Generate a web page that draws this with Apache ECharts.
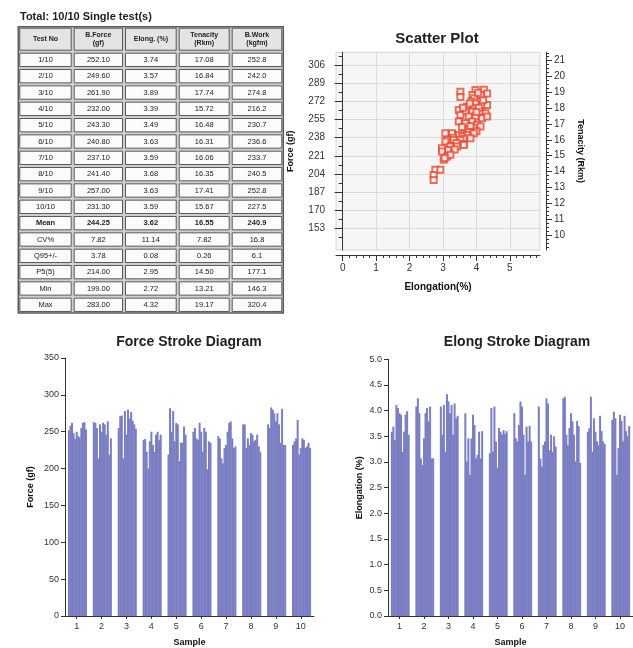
<!DOCTYPE html>
<html><head><meta charset="utf-8">
<script src="https://cdn.jsdelivr.net/npm/echarts@6.0.0/dist/echarts.min.js"></script>
<style>html,body{margin:0;padding:0;background:#fff}#c{width:633px;height:648px}</style>
</head><body><div id="c"></div>
<script>
// ---------- DATA ----------
const tableTitle = 'Total: 10/10 Single test(s)';
const tableHeaders = ['Test No', 'B.Force\n(gf)', 'Elong. (%)', 'Tenacity\n(Rkm)', 'B.Work\n(kgfm)'];
const tableRowLabels = ['1/10','2/10','3/10','4/10','5/10','6/10','7/10','8/10','9/10','10/10','Mean','CV%','Q95+/-','P5(5)','Min','Max'];
const tableForce = ['252.10','249.60','261.90','232.00','243.30','240.80','237.10','241.40','257.00','231.30','244.25','7.82','3.78','214.00','199.00','283.00'];
const tableElong = ['3.74','3.57','3.89','3.39','3.49','3.63','3.59','3.68','3.63','3.59','3.62','11.14','0.08','2.95','2.72','4.32'];
const tableTenacity = ['17.08','16.84','17.74','15.72','16.48','16.31','16.06','16.35','17.41','15.67','16.55','7.82','0.26','14.50','13.21','19.17'];
const tableWork = ['252.8','242.0','274.8','216.2','230.7','236.6','233.7','240.5','252.8','227.5','240.9','16.8','6.1','177.1','146.3','320.4'];

const sampleLabels = ['1','2','3','4','5','6','7','8','9','10'];
const forceGroups = [
  [252,258,262,248,240,250,244,242,255,262,263,253],
  [263,262,255,214,260,250,262,260,246,264,219,241],
  [255,271,272,214,278,246,280,268,277,265,260,254],
  [239,240,223,200,237,250,232,223,246,250,239,246],
  [219,282,250,278,237,262,260,210,235,235,257,246],
  [250,255,241,239,262,250,223,255,250,199,237,235],
  [244,241,214,207,228,232,250,262,264,241,228,230],
  [260,260,228,241,232,248,246,237,239,246,230,223],
  [260,255,283,280,275,264,275,260,235,281,232,232],
  [232,237,241,266,219,228,241,239,228,230,235,228]
];
const elongGroups = [
  [3.59,3.69,3.43,4.11,4.05,3.95,3.92,3.20,3.59,3.92,3.99,3.53],
  [4.08,4.24,3.95,3.07,2.94,3.46,3.95,4.05,3.79,4.08,3.07,3.07],
  [4.08,3.53,4.11,3.20,4.32,4.18,3.95,4.11,3.53,4.14,3.85,3.90],
  [3.95,3.01,3.46,2.75,3.46,3.92,3.72,3.07,3.14,3.59,3.07,3.60],
  [3.17,4.05,3.20,4.08,3.40,2.88,3.66,3.59,3.53,3.62,3.55,3.60],
  [3.95,3.46,3.40,3.72,4.18,4.08,3.53,2.75,3.69,3.40,3.70,3.40],
  [4.08,3.07,2.91,3.33,3.40,4.24,4.14,3.23,3.53,3.20,3.50,3.30],
  [4.24,4.27,3.53,3.33,3.66,3.95,3.79,3.53,3.01,3.80,3.70,2.98],
  [3.59,3.66,4.27,3.20,3.85,3.59,3.40,3.33,3.90,3.60,3.40,3.35],
  [3.82,3.98,3.85,2.75,3.27,3.92,3.80,3.40,3.90,3.60,3.50,3.70]
];
const scatterElong = [3.52,3.52,3.97,4.22,4.32,3.88,4.13,3.93,4.05,3.85,3.97,4.17,3.72,3.92,4.32,3.47,3.67,3.87,4.12,4.27,
  3.52,3.77,3.97,4.17,4.32,4.07,3.60,3.80,4.20,4.00,3.47,3.67,3.87,4.02,4.12,3.72,3.92,3.57,3.82,4.00,
  3.77,3.07,3.27,3.47,3.72,3.92,3.57,3.30,3.62,3.12,3.07,3.32,3.52,3.82,3.40,3.62,2.97,3.22,3.42,3.62,
  3.15,3.35,2.97,3.12,3.02,3.22,3.05,2.77,2.92,2.72,2.72];
const scatterForce = [281,276,282.6,283,279.5,278,278,275,280,272,270,268.7,267,265.5,268.7,264,262.4,262.4,262.4,260.9,
  259.3,257.8,257.8,256.2,257.8,266,266,270,273,262,253.1,251.5,253.1,250,248.4,245.3,246.8,248,249,244,
  243,242.2,242.2,240.6,240.6,242.2,239,238,237,236,234.4,235.9,235.9,237.5,233,232,228.1,229.7,229.7,231.2,
  226.5,227,225,220.3,217.2,221.9,219,207.8,207.8,203.1,198.4];
const scatterForceTicks = [153,170,187,204,221,238,255,272,289,306];
const scatterTenacityTicks = [10,11,12,13,14,15,16,17,18,19,20,21];
const scatterElongTicks = [0,1,2,3,4,5];

// ---------- BUILD ----------
const FONT = '"Liberation Sans", Arial, sans-serif';
const SLOTS = 16, LEAD = 2;
function buildSlots(groups) {
  const cats = [], vals = [];
  groups.forEach((g, gi) => {
    for (let s = 0; s < SLOTS; s++) {
      cats.push(sampleLabels[gi]);
      const k = s - LEAD;
      vals.push(k >= 0 && k < g.length ? g[k] : '-');
    }
  });
  return {cats, vals};
}
const fs = buildSlots(forceGroups), es = buildSlots(elongGroups);
const labelPick = (i) => i % SLOTS === SLOTS / 2 - 1;

const scatterData = scatterElong.map((e, i) => [e, scatterForce[i]]);
const xMinor = []; for (let v = 0; v <= 5.81; v += 0.2) xMinor.push(+v.toFixed(2));
const yMinor = scatterForceTicks.map(v => v - 8.5).concat([314.5]);
const rMinor = []; for (let v = 9.25; v <= 21.5; v += 0.25) if (Math.abs(v - Math.round(v)) > 0.01) rMinor.push(v);

// table graphics
const colX = [18.3, 72.7, 124, 177.7, 230.7, 283.3];
const headTop = 26.7, headBot = 51.7, rowH = 16.33;
const g = [];
g.push({type:'text', left: 20, top: 11, style:{text: tableTitle, font:'bold 11px ' + FONT, fill:'#222'}});
const tableBottom = headBot + rowH * tableRowLabels.length;
g.push({type:'rect', shape:{x: colX[0], y: headTop, width: colX[5]-colX[0], height: tableBottom-headTop},
  style:{fill:'#cfcfcf', stroke:'#5a5a5a', lineWidth:1.5}});
function cell(x0, x1, y0, y1, txt, head, bold) {
  g.push({type:'rect', shape:{x:x0+1.5, y:y0+1.5, width:x1-x0-3, height:y1-y0-3},
    style:{fill: head ? '#e4e4e4' : '#fbfbfb', stroke:'#5a5a5a', lineWidth:1}});
  g.push({type:'text', x:(x0+x1)/2, y:(y0+y1)/2,
    style:{text:txt, font:(head||bold ? 'bold ' : '') + (head ? '7px ' : '7.5px ') + FONT,
      fill:'#222', align:'center', verticalAlign:'middle', lineHeight: 8}});
}
tableHeaders.forEach((h, i) => cell(colX[i], colX[i+1], headTop, headBot, h, true, true));
const cols = [tableRowLabels, tableForce, tableElong, tableTenacity, tableWork];
tableRowLabels.forEach((r, ri) => {
  const y0 = headBot + ri * rowH;
  cols.forEach((c, ci) => cell(colX[ci], colX[ci+1], y0, y0 + rowH, c[ri], false, r === 'Mean'));
});
// chart titles
g.push({type:'text', x: 437, y: 39, style:{text:'Scatter Plot', font:'bold 15px ' + FONT, fill:'#222', align:'center', verticalAlign:'middle'}});
g.push({type:'text', x: 189, y: 342, style:{text:'Force Stroke Diagram', font:'bold 14px ' + FONT, fill:'#222', align:'center', verticalAlign:'middle'}});
g.push({type:'text', x: 517, y: 342, style:{text:'Elong Stroke Diagram', font:'bold 14px ' + FONT, fill:'#222', align:'center', verticalAlign:'middle'}});

const axisLineDark = {show:true, lineStyle:{color:'#333', width:1}};
const lbl = (size) => ({color:'#333', fontSize:size, fontFamily:FONT});
const nameStyle = {color:'#111', fontSize:9, fontWeight:'bold', fontFamily:FONT};

const option = {
  animation: false,
  backgroundColor: '#ffffff',
  graphic: g,
  grid: [
    {left:336, top:52.3, width:204, height:197.7, show:true, backgroundColor:'#f6f6f6', borderColor:'#d4d4d4', borderWidth:1},
    {left:65, top:358, width:249, height:258},
    {left:388, top:359.3, width:253, height:256.7}
  ],
  xAxis: [
    {gridIndex:0, type:'value', min:-0.2, max:5.9, offset:5, position:'bottom',
      axisLine:axisLineDark, axisTick:{show:true, customValues:scatterElongTicks, length:6, lineStyle:{color:'#333'}},
      axisLabel:Object.assign({customValues:scatterElongTicks, margin:8}, lbl(10)),
      splitLine:{show:true, lineStyle:{color:'#dcdcdc'}},
      name:'Elongation(%)', nameLocation:'middle', nameGap:27, nameTextStyle:Object.assign({}, nameStyle, {fontSize:10})},
    {gridIndex:0, type:'value', min:-0.2, max:5.9, offset:5, position:'bottom',
      axisLine:{show:false}, axisLabel:{show:false}, splitLine:{show:false},
      axisTick:{show:true, customValues:xMinor, length:3, lineStyle:{color:'#333'}}},
    {gridIndex:1, type:'category', data:fs.cats, boundaryGap:true,
      axisLine:axisLineDark,
      axisTick:{show:true, interval:labelPick, alignWithLabel:true, length:3, lineStyle:{color:'#333'}},
      axisLabel:Object.assign({interval:labelPick, margin:6}, lbl(9)),
      name:'Sample', nameLocation:'middle', nameGap:22, nameTextStyle:nameStyle},
    {gridIndex:2, type:'category', data:es.cats, boundaryGap:true,
      axisLine:axisLineDark,
      axisTick:{show:true, interval:labelPick, alignWithLabel:true, length:3, lineStyle:{color:'#333'}},
      axisLabel:Object.assign({interval:labelPick, margin:6}, lbl(9)),
      name:'Sample', nameLocation:'middle', nameGap:22, nameTextStyle:nameStyle}
  ],
  yAxis: [
    {gridIndex:0, type:'value', position:'left', min:132.7, max:318, offset:1,
      axisLine:axisLineDark, axisTick:{show:true, customValues:scatterForceTicks, length:8, lineStyle:{color:'#333'}},
      axisLabel:Object.assign({customValues:scatterForceTicks, margin:10}, lbl(10)),
      splitLine:{show:true, lineStyle:{color:'#dcdcdc'}},
      name:'Force (gf)', nameLocation:'middle', nameGap:40, nameTextStyle:nameStyle},
    {gridIndex:0, type:'value', position:'left', min:132.7, max:318, offset:1,
      axisLine:{show:false}, axisLabel:{show:false}, splitLine:{show:false},
      axisTick:{show:true, customValues:yMinor, length:4, lineStyle:{color:'#333'}}},
    {gridIndex:0, type:'value', position:'right', min:9.05, max:21.53, offset:6,
      axisLine:axisLineDark, axisTick:{show:true, customValues:scatterTenacityTicks, length:6, lineStyle:{color:'#333'}},
      axisLabel:Object.assign({customValues:scatterTenacityTicks, margin:8}, lbl(10)),
      splitLine:{show:false},
      name:'Tenacity (Rkm)', nameLocation:'middle', nameGap:30, nameRotate:-90, nameTextStyle:nameStyle},
    {gridIndex:0, type:'value', position:'right', min:9.05, max:21.53, offset:6,
      axisLine:{show:false}, axisLabel:{show:false}, splitLine:{show:false},
      axisTick:{show:true, customValues:rMinor, length:3, lineStyle:{color:'#333'}}},
    {gridIndex:1, type:'value', min:0, max:350, interval:50,
      axisLine:axisLineDark, axisTick:{show:true, length:4, lineStyle:{color:'#333'}},
      axisLabel:Object.assign({margin:6}, lbl(9)), splitLine:{show:false},
      name:'Force (gf)', nameLocation:'middle', nameGap:30, nameTextStyle:nameStyle},
    {gridIndex:2, type:'value', min:0, max:5, interval:0.5,
      axisLine:axisLineDark, axisTick:{show:true, length:4, lineStyle:{color:'#333'}},
      axisLabel:Object.assign({margin:6, formatter:(v)=>v.toFixed(1)}, lbl(9)), splitLine:{show:false},
      name:'Elongation (%)', nameLocation:'middle', nameGap:24, nameTextStyle:nameStyle}
  ],
  series: [
    {type:'scatter', xAxisIndex:0, yAxisIndex:0, data:scatterData, symbol:'emptyRect', symbolSize:6,
      itemStyle:{color:'#e84a33', borderColor:'#e84a33', borderWidth:1}},
    {type:'bar', xAxisIndex:2, yAxisIndex:4, data:fs.vals, barWidth:2,
      itemStyle:{color:'#7a7ec2'}},
    {type:'bar', xAxisIndex:3, yAxisIndex:5, data:es.vals, barWidth:2,
      itemStyle:{color:'#7a7ec2'}}
  ]
};
const chart = echarts.init(document.getElementById('c'), null, {renderer:'canvas'});
chart.setOption(option);
</script></body></html>
